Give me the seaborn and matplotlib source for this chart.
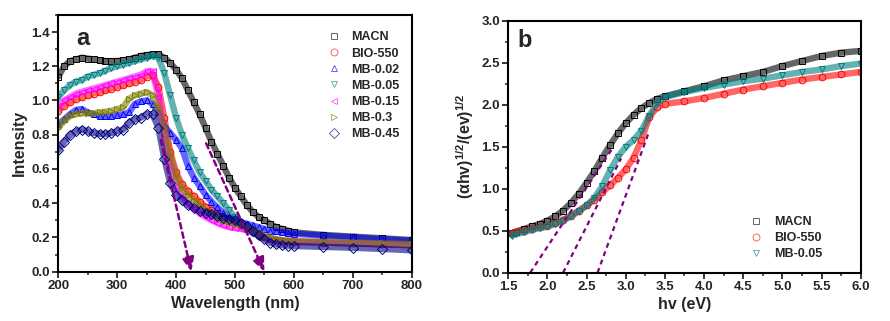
import numpy as np
import matplotlib
matplotlib.use("Agg")
import matplotlib.pyplot as plt
from matplotlib.lines import Line2D
from matplotlib.ticker import MultipleLocator, FormatStrFormatter
import seaborn as sns

# ---------------- panel a: UV-vis spectra ----------------
wavelength = [200, 210, 220, 230, 240, 250, 260, 270, 280, 290, 300, 310, 320, 330,
              340, 350, 360, 370, 380, 390, 400, 410, 420, 430, 440, 450, 460, 470,
              480, 490, 500, 510, 520, 530, 540, 550, 560, 570, 580, 590, 600,
              650, 700, 750, 800]

macn = [1.14, 1.20, 1.23, 1.24, 1.25, 1.245, 1.24, 1.235, 1.23, 1.23, 1.23, 1.235, 1.24, 1.25,
        1.26, 1.265, 1.27, 1.27, 1.25, 1.22, 1.18, 1.13, 1.06, 0.99, 0.92, 0.84, 0.76, 0.69,
        0.62, 0.55, 0.49, 0.44, 0.39, 0.35, 0.32, 0.30, 0.28, 0.26, 0.25, 0.24, 0.23,
        0.215, 0.205, 0.195, 0.185]
bio550 = [0.94, 0.97, 0.99, 1.01, 1.02, 1.03, 1.04, 1.05, 1.06, 1.07, 1.08, 1.09, 1.10, 1.11,
          1.12, 1.14, 1.15, 1.08, 0.90, 0.70, 0.58, 0.51, 0.47, 0.44, 0.41, 0.38, 0.36, 0.34,
          0.32, 0.305, 0.29, 0.27, 0.25, 0.23, 0.21, 0.20, 0.19, 0.185, 0.18, 0.178, 0.175,
          0.17, 0.165, 0.16, 0.155]
mb002 = [0.86, 0.89, 0.92, 0.945, 0.95, 0.93, 0.92, 0.91, 0.91, 0.91, 0.915, 0.92, 0.93, 0.98,
         0.995, 1.00, 0.98, 0.93, 0.85, 0.81, 0.77, 0.72, 0.62, 0.55, 0.50, 0.45, 0.41, 0.375,
         0.345, 0.32, 0.305, 0.29, 0.28, 0.27, 0.26, 0.25, 0.24, 0.235, 0.23, 0.225, 0.222,
         0.21, 0.20, 0.19, 0.18]
mb005 = [1.02, 1.06, 1.09, 1.11, 1.12, 1.14, 1.15, 1.16, 1.175, 1.19, 1.20, 1.21, 1.22, 1.23,
         1.24, 1.25, 1.26, 1.25, 1.16, 1.03, 0.90, 0.80, 0.72, 0.65, 0.58, 0.53, 0.48, 0.44,
         0.40, 0.36, 0.32, 0.28, 0.25, 0.225, 0.21, 0.20, 0.19, 0.185, 0.18, 0.178, 0.175,
         0.17, 0.165, 0.16, 0.155]
mb015 = [0.97, 1.00, 1.02, 1.04, 1.05, 1.06, 1.07, 1.08, 1.09, 1.10, 1.11, 1.12, 1.13, 1.14,
         1.15, 1.17, 1.17, 1.02, 0.80, 0.62, 0.50, 0.44, 0.40, 0.37, 0.34, 0.32, 0.30, 0.285,
         0.27, 0.26, 0.255, 0.25, 0.245, 0.235, 0.22, 0.205, 0.19, 0.185, 0.18, 0.178, 0.175,
         0.17, 0.165, 0.16, 0.155]
mb03 = [0.84, 0.88, 0.91, 0.92, 0.925, 0.925, 0.925, 0.93, 0.935, 0.94, 0.95, 0.96, 1.01, 1.03,
        1.04, 1.05, 1.03, 0.96, 0.84, 0.68, 0.56, 0.49, 0.45, 0.42, 0.39, 0.36, 0.34, 0.32,
        0.30, 0.29, 0.28, 0.27, 0.26, 0.245, 0.23, 0.21, 0.20, 0.19, 0.185, 0.182, 0.18,
        0.175, 0.17, 0.165, 0.16]
mb045 = [0.71, 0.76, 0.80, 0.82, 0.83, 0.82, 0.81, 0.805, 0.805, 0.81, 0.82, 0.83, 0.87, 0.89,
         0.90, 0.92, 0.92, 0.84, 0.66, 0.52, 0.45, 0.42, 0.39, 0.37, 0.355, 0.345, 0.335, 0.325,
         0.315, 0.31, 0.30, 0.285, 0.265, 0.24, 0.215, 0.19, 0.17, 0.16, 0.155, 0.152, 0.15,
         0.145, 0.14, 0.133, 0.125]

labels_a = ["MACN", "BIO-550", "MB-0.02", "MB-0.05", "MB-0.15", "MB-0.3", "MB-0.45"]
series_a = [macn, bio550, mb002, mb005, mb015, mb03, mb045]

# absorption-edge arrows: (start wavelength, start intensity) -> edge wavelength
arrow_start_wl = [374, 451]
arrow_start_int = [0.77, 0.75]
arrow_edge_wl = [426, 550]

# ---------------- panel b: Tauc plot ----------------
photon_energy = [1.55, 1.6, 1.7, 1.8, 1.9, 2.0, 2.1, 2.2, 2.3, 2.4, 2.5, 2.6, 2.7, 2.8, 2.9,
                 3.0, 3.1, 3.2, 3.3, 3.4, 3.5, 3.75, 4.0, 4.25, 4.5, 4.75, 5.0, 5.25, 5.5,
                 5.75, 6.0]
tauc_macn = [0.47, 0.49, 0.52, 0.55, 0.58, 0.62, 0.67, 0.74, 0.83, 0.94, 1.07, 1.21, 1.37, 1.52,
             1.66, 1.78, 1.88, 1.96, 2.02, 2.07, 2.10, 2.16, 2.22, 2.29, 2.34, 2.39, 2.46, 2.52,
             2.58, 2.62, 2.64]
tauc_bio550 = [0.47, 0.48, 0.50, 0.52, 0.54, 0.56, 0.59, 0.63, 0.68, 0.74, 0.80, 0.87, 0.96,
               1.04, 1.13, 1.23, 1.37, 1.58, 1.85, 1.97, 2.01, 2.04, 2.08, 2.13, 2.18, 2.22,
               2.26, 2.30, 2.33, 2.36, 2.39]
tauc_mb005 = [0.44, 0.46, 0.48, 0.51, 0.53, 0.55, 0.58, 0.62, 0.67, 0.73, 0.80, 0.89, 1.03,
              1.22, 1.38, 1.50, 1.58, 1.69, 1.87, 2.02, 2.09, 2.15, 2.20, 2.24, 2.28, 2.31,
              2.35, 2.39, 2.42, 2.46, 2.49]

labels_b = ["MACN", "BIO-550", "MB-0.05"]
series_b = [tauc_macn, tauc_bio550, tauc_mb005]

# tangent lines: band-gap intercept on the energy axis -> upper point
gap_onset = [1.78, 2.20, 2.64]
tangent_top_x = [2.83, 2.94, 3.29]
tangent_top_y = [1.48, 1.36, 1.66]

# ---------------- styling ----------------
colors = {"MACN": "#000000", "BIO-550": "#FF0000", "MB-0.02": "#0000FF",
          "MB-0.05": "#008080", "MB-0.15": "#FF00FF", "MB-0.3": "#808000",
          "MB-0.45": "#000080"}
markers = {"MACN": "s", "BIO-550": "o", "MB-0.02": "^", "MB-0.05": "v",
           "MB-0.15": "<", "MB-0.3": ">", "MB-0.45": "D"}
purple = "#800080"

sns.set_theme(style="ticks")
plt.rcParams["font.family"] = ["Liberation Sans", "DejaVu Sans"]
plt.rcParams["font.weight"] = "bold"
plt.rcParams["mathtext.fontset"] = "custom"
plt.rcParams["mathtext.rm"] = "Liberation Sans:bold"
plt.rcParams["mathtext.bf"] = "Liberation Sans:bold"
plt.rcParams["mathtext.it"] = "Liberation Sans:bold"

fig = plt.figure(figsize=(8.9, 3.21), dpi=100)
ax_a = fig.add_axes([0.0655, 0.1536, 0.397, 0.800])
ax_b = fig.add_axes([0.5711, 0.1505, 0.396, 0.785])


def draw_series(ax, x, y, name):
    c = colors[name]
    # broad translucent band under the hollow symbols
    sns.lineplot(x=x, y=y, ax=ax, color=c, lw=4.6, alpha=0.6, sort=False,
                 estimator=None, legend=False, solid_capstyle="round")
    sns.lineplot(x=x, y=y, ax=ax, color=c, lw=0, marker=markers[name], markersize=4.8,
                 markerfacecolor="none", markeredgecolor=c, markeredgewidth=0.7,
                 sort=False, estimator=None, legend=False)


def style_axes(ax):
    for sp in ax.spines.values():
        sp.set_visible(True)
        sp.set_linewidth(1.5)
        sp.set_color("black")
    ax.tick_params(axis="both", which="major", direction="out", length=4, width=1.3,
                   labelsize=9.5, pad=2, top=False, right=False)
    ax.tick_params(axis="both", which="minor", direction="out", length=2.5, width=1.1,
                   top=False, right=False)
    for lab in ax.get_xticklabels() + ax.get_yticklabels():
        lab.set_fontweight("bold")


def make_legend(ax, names, anchor):
    handles = [Line2D([], [], ls="none", marker=markers[n], markersize=5,
                      markerfacecolor="none", markeredgecolor=colors[n],
                      markeredgewidth=0.6, alpha=0.7) for n in names]
    ax.legend(handles, names, loc="upper left", bbox_to_anchor=anchor, frameon=False,
              prop={"size": 9, "weight": "bold"}, labelspacing=0.33, handletextpad=0.9,
              handlelength=1.0, borderaxespad=0)


# panel a
for name, vals in zip(labels_a, series_a):
    draw_series(ax_a, wavelength, vals, name)
for x0, y0, x1 in zip(arrow_start_wl, arrow_start_int, arrow_edge_wl):
    ax_a.annotate("", xy=(x1, 0.0), xytext=(x0, y0),
                  arrowprops=dict(arrowstyle="-|>,head_length=0.7,head_width=0.3",
                                  color=purple, lw=1.8, linestyle=(0, (2.2, 1.6)),
                                  shrinkA=0, shrinkB=0))
ax_a.set_xlim(200, 800)
ax_a.set_ylim(0, 1.5)
ax_a.xaxis.set_major_locator(MultipleLocator(100))
ax_a.xaxis.set_minor_locator(MultipleLocator(50))
ax_a.yaxis.set_minor_locator(MultipleLocator(0.1))
ax_a.set_yticks([0.0, 0.2, 0.4, 0.6, 0.8, 1.0, 1.2, 1.4])
ax_a.yaxis.set_major_formatter(FormatStrFormatter("%.1f"))
ax_a.set_xlabel("Wavelength (nm)", fontsize=11.5, fontweight="bold", labelpad=3)
ax_a.set_ylabel("Intensity", fontsize=11.5, fontweight="bold", labelpad=3)
ax_a.text(242, 1.36, "a", fontsize=17, fontweight="bold", ha="center", va="center")
style_axes(ax_a)
make_legend(ax_a, labels_a, (0.748, 0.955))

# panel b
for name, vals in zip(labels_b, series_b):
    draw_series(ax_b, photon_energy, vals, name)
for x0, x1, y1 in zip(gap_onset, tangent_top_x, tangent_top_y):
    ax_b.plot([x0, x1], [0, y1], color=purple, lw=1.6, linestyle=(0, (2.2, 1.8)))
ax_b.set_xlim(1.5, 6.0)
ax_b.set_ylim(0, 3.0)
ax_b.xaxis.set_major_locator(MultipleLocator(0.5))
ax_b.xaxis.set_minor_locator(MultipleLocator(0.25))
ax_b.yaxis.set_major_locator(MultipleLocator(0.5))
ax_b.yaxis.set_minor_locator(MultipleLocator(0.25))
ax_b.xaxis.set_major_formatter(FormatStrFormatter("%.1f"))
ax_b.yaxis.set_major_formatter(FormatStrFormatter("%.1f"))
ax_b.set_xlabel("hv (eV)", fontsize=11.5, fontweight="bold", labelpad=3)
ax_b.set_ylabel(r"(αhv)$^{1/2}$/(ev)$^{1/2}$", fontsize=11.5, fontweight="bold", labelpad=4)
ax_b.text(1.71, 2.77, "b", fontsize=17, fontweight="bold", ha="center", va="center")
style_axes(ax_b)
make_legend(ax_b, labels_b, (0.672, 0.245))

fig.savefig("out.png", dpi=100)
